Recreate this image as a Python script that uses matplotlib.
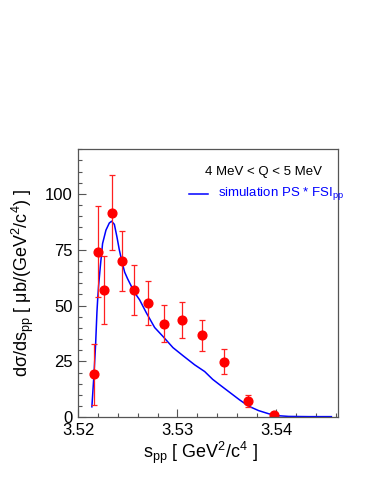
import numpy as np
import matplotlib
matplotlib.use('Agg')
import matplotlib.pyplot as plt
from matplotlib.ticker import MultipleLocator

plt.rcParams['font.family'] = ['Liberation Sans', 'DejaVu Sans']
plt.rcParams['mathtext.fontset'] = 'custom'
plt.rcParams['mathtext.rm'] = 'Liberation Sans'
plt.rcParams['mathtext.it'] = 'Liberation Sans'
plt.rcParams['mathtext.bf'] = 'Liberation Sans:bold'

# measured points
s_data = [3.52155, 3.52198, 3.52256, 3.52339, 3.52440, 3.52562, 3.52703,
          3.52865, 3.53051, 3.53248, 3.53468, 3.53717, 3.53976]
xs_data = [19.2, 74.1, 56.9, 91.7, 69.9, 56.9, 51.3, 42.0, 43.5, 36.7, 24.9, 7.2, 1.0]
xs_err = [13.5, 20.4, 15.2, 17.0, 13.4, 11.1, 9.8, 8.3, 8.0, 7.0, 5.5, 2.7, 0.5]

# simulation PS * FSI_pp
s_sim = [3.52137, 3.52158, 3.52175, 3.52188, 3.52195, 3.52205, 3.52222, 3.52245,
         3.52279, 3.52313, 3.52336, 3.52364, 3.52390, 3.52414, 3.52442, 3.52468,
         3.52498, 3.52566, 3.52619, 3.52687, 3.52771, 3.52855, 3.52956, 3.53057,
         3.53175, 3.53276, 3.53357, 3.53427, 3.53528, 3.53629, 3.53720, 3.53821,
         3.53922, 3.54023, 3.54124, 3.54326, 3.54556]
xs_sim = [4.7, 19.0, 33.0, 47.0, 52.5, 59.0, 67.4, 77.8,
          83.8, 87.0, 87.8, 86.4, 80.8, 75.0, 69.5, 65.0,
          62.0, 56.0, 52.6, 46.8, 40.2, 36.2, 31.2, 27.6,
          23.5, 20.5, 17.0, 14.6, 11.2, 7.8, 5.0, 3.0,
          1.6, 0.7, 0.4, 0.3, 0.3]

fig = plt.figure(figsize=(3.74, 4.84), dpi=100)
ax = fig.add_axes([0.2094, 0.1378, 0.6936, 0.5537])

ax.plot(s_sim, xs_sim, color='#0000ff', linewidth=1.1,
        label=r'simulation PS * FSI$_{\rm pp}$')
ax.errorbar(s_data, xs_data, yerr=xs_err, fmt='o', color='red', ecolor='#ff2020',
            markersize=6.3, elinewidth=0.9, capsize=2.5, capthick=0.9)

ax.set_xlim(3.52, 3.5462)
ax.set_ylim(0, 120)
ax.xaxis.set_major_locator(MultipleLocator(0.01))
ax.xaxis.set_minor_locator(MultipleLocator(0.002))
ax.yaxis.set_major_locator(MultipleLocator(25))
ax.yaxis.set_minor_locator(MultipleLocator(5))
ax.xaxis.set_major_formatter(plt.FuncFormatter(lambda v, p: f'{v:.2f}'))
ax.tick_params(which='both', direction='in', top=False, right=False,
               labelsize=12, colors='#555555', labelcolor='black', pad=4)
ax.tick_params(which='major', length=6, width=0.8)
ax.tick_params(which='minor', length=3, width=0.8)
for sp in ax.spines.values():
    sp.set_color('#555555')
    sp.set_linewidth(0.9)

ax.set_xlabel(r's$_{\rm pp}$ [ GeV$^2$/c$^4$ ]', fontsize=13)
ax.xaxis.set_label_coords(0.47, -0.085)
ax.set_ylabel(r'dσ/ds$_{\rm pp}$ [ μb/(GeV$^2$/c$^4$) ]', fontsize=13)
ax.yaxis.set_label_coords(-0.165, 0.5)

ax.text(0.94, 0.915, '4 MeV < Q < 5 MeV', transform=ax.transAxes,
        fontsize=9.5, ha='right', va='center')
ax.plot([0.425, 0.5], [0.835, 0.835], transform=ax.transAxes,
        color='#0000ff', linewidth=1.1)
ax.text(0.54, 0.835, r'simulation PS * FSI$_{\rm pp}$', transform=ax.transAxes,
        fontsize=9.5, ha='left', va='center', color='#0000ff')

fig.savefig('out.png', dpi=100)
